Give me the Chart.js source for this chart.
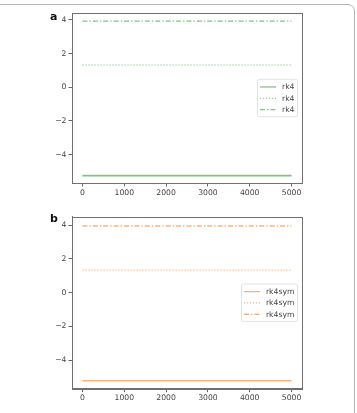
<!DOCTYPE html>
<html>
<head>
<meta charset="utf-8">
<script src="https://cdn.jsdelivr.net/npm/chart.js@4.4.1/dist/chart.umd.min.js"></script>
<style>
    html, body { margin: 0; padding: 0; background: #fff; overflow: hidden; }
    body { width: 357px; height: 413px; position: relative; }
    #frame {
        position: absolute; left: -6px; top: 4px; width: 361px; height: 440px;
        box-sizing: border-box; border: 1px solid #b4b4b4; border-radius: 7px;
    }
    .panel { position: absolute; left: 0; width: 357px; }
    .tag { position: absolute; font: bold 11px "DejaVu Sans", sans-serif; color: #111; }
</style>
</head>
<body>
<div id="frame"></div>
<div class="panel" style="top:0;height:200px"><canvas id="chartA"></canvas></div>
<div class="panel" style="top:200px;height:213px"><canvas id="chartB"></canvas></div>
<div class="tag" style="left:50px;top:10px">a</div>
<div class="tag" style="left:50px;top:212px">b</div>
<script>
// time steps
const steps = [0, 1000, 2000, 3000, 4000, 5000];
const xTicks = [0, 1000, 2000, 3000, 4000, 5000];
const yTicks = [-4, -2, 0, 2, 4];

// panel a: rk4
const rk4Solid = [-5.25, -5.25, -5.25, -5.25, -5.25, -5.25];
const rk4Dotted = [1.32, 1.32, 1.32, 1.32, 1.32, 1.32];
const rk4DashDot = [3.93, 3.93, 3.93, 3.93, 3.93, 3.93];

// panel b: rk4sym
const symSolid = [-5.23, -5.23, -5.23, -5.23, -5.23, -5.23];
const symDotted = [1.33, 1.33, 1.33, 1.33, 1.33, 1.33];
const symDashDot = [3.95, 3.95, 3.95, 3.95, 3.95, 3.95];

const FONT = { family: "DejaVu Sans", size: 7.7 };
const TEXT = "#444";

function toPoints(vals) {
    return steps.map((x, i) => ({ x: x, y: vals[i] }));
}

const frameAndLegend = {
    id: "frameAndLegend",
    afterDraw(chart) {
        const ctx = chart.ctx;
        const a = chart.chartArea;
        ctx.save();
        ctx.strokeStyle = "#707070";
        ctx.lineWidth = 1;
        ctx.strokeRect(Math.round(a.left) + 0.5, Math.round(a.top) + 0.5,
            Math.round(a.right - a.left), Math.round(a.bottom - a.top));

        // legend, center right
        const sets = chart.data.datasets;
        ctx.font = FONT.size + "px " + FONT.family;
        let tw = 0;
        sets.forEach(d => { tw = Math.max(tw, ctx.measureText(d.label).width); });
        const rowH = 11.3;
        const boxW = 2.5 + 16 + 6 + tw + 3;
        const boxH = sets.length * rowH + 3.5;
        const bx = a.right - 4.5 - boxW;
        const by = (a.top + a.bottom) / 2 - boxH / 2;
        ctx.beginPath();
        ctx.roundRect(bx, by, boxW, boxH, 2);
        ctx.fillStyle = "rgba(255,255,255,0.85)";
        ctx.fill();
        ctx.strokeStyle = "#dcdcdc";
        ctx.lineWidth = 0.8;
        ctx.stroke();
        sets.forEach((d, i) => {
            const cy = by + 2 + rowH * (i + 0.5);
            ctx.beginPath();
            ctx.setLineDash(d.borderDash || []);
            ctx.strokeStyle = d.borderColor;
            ctx.lineWidth = Math.min(d.borderWidth, 1.3);
            ctx.moveTo(bx + 2.5, cy);
            ctx.lineTo(bx + 2.5 + 16, cy);
            ctx.stroke();
            ctx.setLineDash([]);
            ctx.fillStyle = TEXT;
            ctx.textBaseline = "middle";
            ctx.textAlign = "left";
            ctx.fillText(d.label, bx + 2.5 + 16 + 6, cy + 0.5);
        });
        ctx.restore();
    }
};

function makeChart(id, label, color, solid, dotted, dashdot, yMin, yMax, pad) {
    new Chart(document.getElementById(id), {
        type: "line",
        data: {
            datasets: [
                { label: label, data: toPoints(solid), borderColor: color, borderWidth: 1.6 },
                { label: label, data: toPoints(dotted), borderColor: color, borderWidth: 1.2, borderDash: [1.2, 1.8] },
                { label: label, data: toPoints(dashdot), borderColor: color, borderWidth: 1.4, borderDash: [5, 2, 1.4, 2] }
            ]
        },
        options: {
            responsive: true,
            maintainAspectRatio: false,
            animation: false,
            elements: { point: { radius: 0 }, line: { tension: 0 } },
            layout: { padding: pad },
            plugins: { legend: { display: false }, tooltip: { enabled: false } },
            scales: {
                x: {
                    type: "linear",
                    min: -250,
                    max: 5250,
                    afterBuildTicks: s => { s.ticks = xTicks.map(v => ({ value: v })); },
                    afterFit: s => { s.height = 17; },
                    grid: { drawOnChartArea: false, tickLength: 3.5, color: "#666", tickColor: "#666" },
                    border: { color: "#707070" },
                    ticks: { font: FONT, color: TEXT, padding: 1.5, maxRotation: 0, callback: v => "" + v }
                },
                y: {
                    min: yMin,
                    max: yMax,
                    afterBuildTicks: s => { s.ticks = yTicks.map(v => ({ value: v })); },
                    afterFit: s => { s.width = 72; },
                    grid: { drawOnChartArea: false, tickLength: 3.5, color: "#666", tickColor: "#666" },
                    border: { color: "#707070" },
                    ticks: {
                        font: FONT, color: TEXT, padding: 2,
                        callback: v => (v < 0 ? "\u2212" + Math.abs(v) : "" + v)
                    }
                }
            }
        },
        plugins: [frameAndLegend]
    });
}

makeChart("chartA", "rk4", "#80c480", rk4Solid, rk4Dotted, rk4DashDot, -5.69, 4.41,
    { left: 0, right: 55, top: 13, bottom: 0 });
makeChart("chartB", "rk4sym", "#f7b47e", symSolid, symDotted, symDashDot, -5.70, 4.50,
    { left: 0, right: 55, top: 16.7, bottom: 7.3 });
</script>
</body>
</html>
